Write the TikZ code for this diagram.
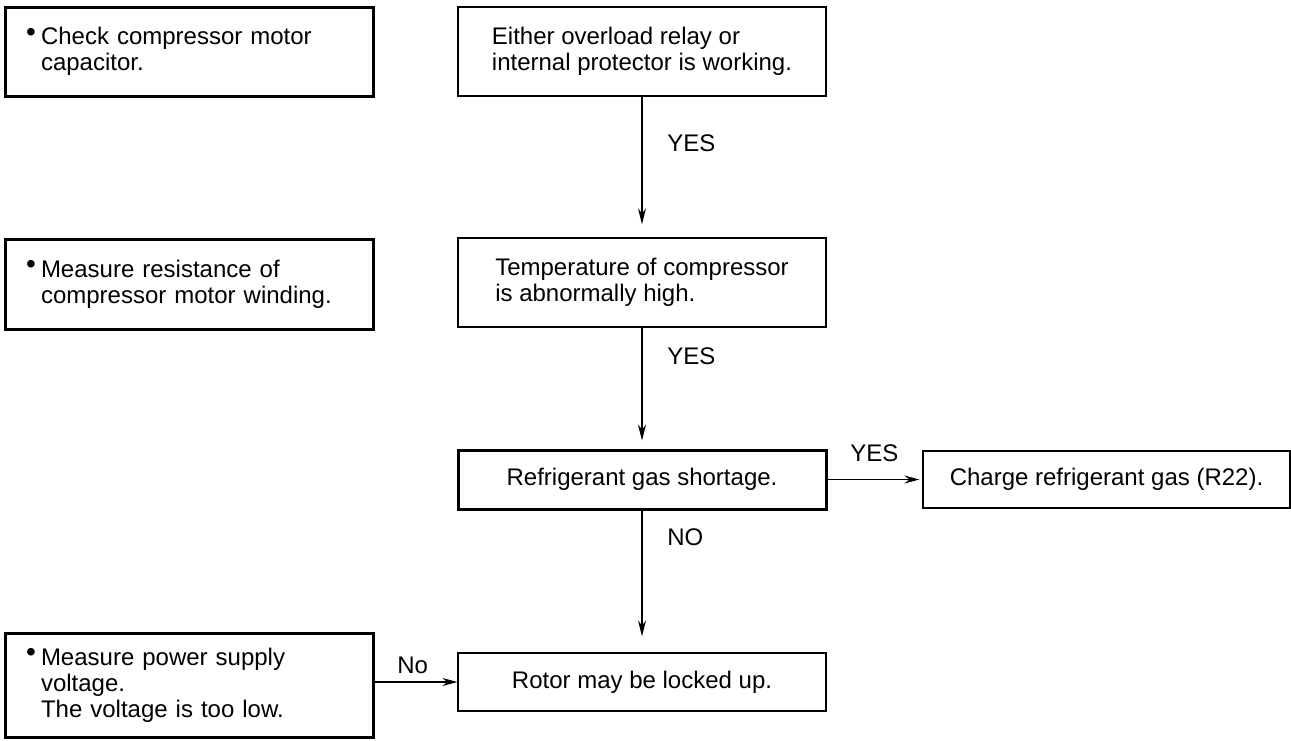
\documentclass[tikz,border=0pt]{standalone}
\usepackage{fontspec}
\setmainfont{Liberation Sans}
\usetikzlibrary{arrows.meta}
\newcommand{\bul}{\makebox[6.5pt][l]{\hspace*{-1pt}\raisebox{1.8pt}{\fontsize{14}{14}\selectfont\textbullet}}}
\newcommand{\ind}{\hspace*{6.5pt}}
\begin{document}
\begin{tikzpicture}[x=0.5pt,y=-0.5pt,
  every node/.style={font=\fontsize{12}{12.9}\selectfont},
  thinbox/.style={draw, line width=0.6pt, inner sep=0pt, minimum width=184pt, align=left},
  thickbox/.style={draw, line width=1.5pt, inner xsep=11.5pt, inner ysep=0pt, text width=161pt, align=left},
  conn/.style={line width=0.6pt, -{Stealth[length=8pt,width=4pt]}},
  lbl/.style={anchor=west, inner sep=0pt}]
\useasboundingbox (0,0) rectangle (1291,740);
\node[thickbox, minimum height=44.5pt] (A) at (189,51.5) {\bul Check compressor motor\\\ind capacitor.};
\node[thinbox, minimum height=44.5pt] (B) at (642,51.5) {Either overload relay or\\internal protector is working.};
\node[thinbox, minimum height=44.5pt] (C) at (642,282.5) {Temperature of compressor\\is abnormally high.};
\node[thickbox, minimum height=45pt] (D) at (189,284) {\bul Measure resistance of\\\ind compressor motor winding.};
\node[thinbox, line width=1.5pt, minimum height=29.5pt] (E) at (642,479.5) {Refrigerant gas shortage.};
\node[thinbox, minimum width=183.5pt, minimum height=28.5pt] (F) at (1106.5,479.5) {Charge refrigerant gas (R22).};
\node[thinbox, minimum height=29pt] (G) at (642,682) {Rotor may be locked up.};
\node[thickbox, minimum height=52pt] (H) at (189,685) {\bul Measure power supply\\\ind voltage.\\\ind The voltage is too low.};
\draw[conn, shorten >=6.5pt] (B) -- (C);
\draw[conn, shorten >=4pt] (C) -- (E);
\draw[conn, shorten >=8pt] (E) -- (G);
\draw[conn, -{Stealth[length=7.5pt,width=4pt]}, shorten >=1.5pt] (E) -- (F);
\draw[conn, -{Stealth[length=7.5pt,width=4pt]}] (H.east |- G) -- (G);
\node[lbl] (y1) at (667,143) {YES};
\node[lbl] (y2) at (667,356) {YES};
\node[lbl] (y3) at (850,453) {YES};
\node[lbl] (n1) at (667,537) {NO};
\node[lbl] (n2) at (397,665) {No};
\end{tikzpicture}
\end{document}
